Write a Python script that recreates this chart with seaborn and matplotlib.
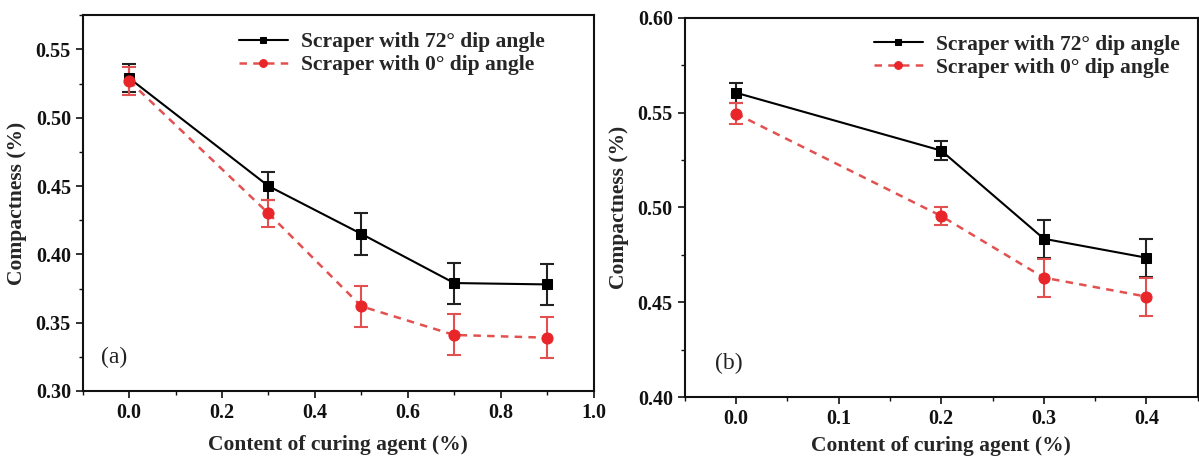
import numpy as np
import pandas as pd
import matplotlib
matplotlib.use("Agg")
import matplotlib.pyplot as plt
from matplotlib.ticker import MultipleLocator
import seaborn as sns

# ---- data ----
x_a = [0.0, 0.3, 0.5, 0.7, 0.9]
y_a_72 = [0.529, 0.450, 0.415, 0.379, 0.378]
e_a_72 = [0.010, 0.0105, 0.0155, 0.015, 0.015]
y_a_0 = [0.527, 0.430, 0.362, 0.341, 0.339]
e_a_0 = [0.010, 0.010, 0.015, 0.015, 0.015]

x_b = [0.0, 0.2, 0.3, 0.4]
y_b_72 = [0.5605, 0.530, 0.4835, 0.4735]
e_b_72 = [0.0053, 0.005, 0.010, 0.010]
y_b_0 = [0.5495, 0.4955, 0.463, 0.453]
e_b_0 = [0.0055, 0.005, 0.010, 0.010]

labels = ["Scraper with 72\u00b0 dip angle", "Scraper with 0\u00b0 dip angle"]
xlabel = "Content of curing agent (%)"
ylabel = "Compactness (%)"

sns.set_theme(style="ticks")
plt.rcParams['font.family'] = ['Liberation Serif', 'DejaVu Serif']
plt.rcParams['font.weight'] = 'bold'
plt.rcParams['axes.labelweight'] = 'bold'

BLACK = "#000000"
RED = "#e8262a"
RED_LINE = "#e2514f"

fig = plt.figure(figsize=(11.99, 4.57), dpi=100)
ax_a = fig.add_axes([0.069, 0.1445, 0.426, 0.822])
ax_b = fig.add_axes([0.571, 0.131, 0.428, 0.830])


def draw(ax, x, y72, e72, y0, e0, xlim, ylim, xmaj, xmin, ymaj, ymin, tag,
         leg_x, tag_xy, xpad):
    df = pd.DataFrame({"x": list(x) * 2,
                       "y": list(y72) + list(y0),
                       "s": [labels[0]] * len(x) + [labels[1]] * len(x)})
    ax.errorbar(x, y72, yerr=e72, fmt="none", ecolor="#222222", elinewidth=1.5,
                capsize=5, capthick=1.5, zorder=3)
    ax.errorbar(x, y0, yerr=e0, fmt="none", ecolor=RED_LINE, elinewidth=1.5,
                capsize=5, capthick=1.5, zorder=3)
    sns.lineplot(data=df[df.s == labels[0]], x="x", y="y", ax=ax, color=BLACK,
                 marker="s", markersize=7, markeredgecolor=BLACK, linewidth=1.5,
                 label=labels[0], zorder=4)
    sns.lineplot(data=df[df.s == labels[1]], x="x", y="y", ax=ax, color=RED_LINE,
                 marker="o", markersize=8, markerfacecolor=RED, markeredgecolor=RED,
                 linewidth=1.8, dashes=(3, 2.5), label=labels[1], zorder=4)
    ax.set_xlim(*xlim)
    ax.set_ylim(*ylim)
    ax.xaxis.set_major_locator(MultipleLocator(xmaj))
    ax.xaxis.set_minor_locator(MultipleLocator(xmin))
    ax.yaxis.set_major_locator(MultipleLocator(ymaj))
    ax.yaxis.set_minor_locator(MultipleLocator(ymin))
    ax.tick_params(axis="both", which="major", direction="out", length=5, width=1.2,
                   labelsize=14.5, colors="#111111")
    ax.tick_params(axis="both", which="minor", direction="out", length=3, width=1.0,
                   colors="#111111")
    for sp in ax.spines.values():
        sp.set_visible(True)
        sp.set_linewidth(1.5)
        sp.set_color("#111111")
    ax.set_xlabel(xlabel, fontsize=15.5, fontweight="bold", labelpad=xpad)
    ax.set_ylabel(ylabel, fontsize=15.5, fontweight="bold", labelpad=6)
    for lab in ax.get_xticklabels() + ax.get_yticklabels():
        lab.set_fontweight("bold")
    leg = ax.legend(loc="upper right", frameon=False, fontsize=15.5,
                    handlelength=2.3, borderaxespad=0.2, labelspacing=0.15,
                    handletextpad=0.6, markerscale=0.7,
                    bbox_to_anchor=(leg_x, 0.99))
    for t in leg.get_texts():
        t.set_fontweight("bold")
    ax.text(tag_xy[0], tag_xy[1], tag, transform=ax.transAxes, fontsize=17,
            fontweight="normal", color="#222222")


draw(ax_a, x_a, y_a_72, e_a_72, y_a_0, e_a_0, (-0.1, 1.0), (0.30, 0.575),
     0.2, 0.1, 0.05, 0.025, "(a)", 0.93, (0.035, 0.075), 9)
ax_a.set_yticklabels([f"{v:.2f}" for v in ax_a.get_yticks()])
draw(ax_b, x_b, y_b_72, e_b_72, y_b_0, e_b_0, (-0.05, 0.45), (0.40, 0.60),
     0.1, 0.05, 0.05, 0.025, "(b)", 0.99, (0.06, 0.075), 5)

fig.savefig("out.png", dpi=100)
